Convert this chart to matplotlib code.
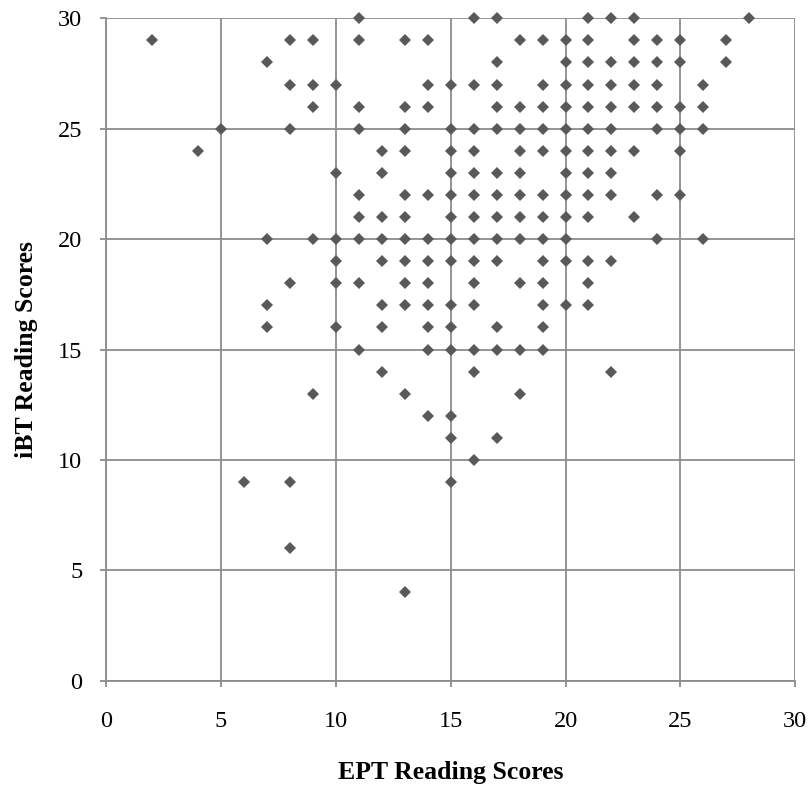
import numpy as np
import matplotlib.pyplot as plt

# EPT vs iBT reading scores (iBT from 30 down)
ept = [11, 16, 17, 21, 22, 23, 28,
       2, 8, 9, 11, 13, 14, 18, 19, 20, 21, 23, 24, 25, 27,
       7, 17, 20, 21, 22, 23, 24, 25, 27,
       8, 9, 10, 14, 15, 16, 17, 19, 20, 21, 22, 23, 24, 26,
       9, 11, 13, 14, 17, 18, 19, 20, 21, 22, 23, 24, 25, 26,
       5, 8, 11, 13, 15, 16, 17, 18, 19, 20, 21, 22, 24, 25, 26,
       4, 12, 13, 15, 16, 18, 19, 20, 21, 22, 23, 25,
       10, 12, 15, 16, 17, 18, 20, 21, 22,
       11, 13, 14, 15, 16, 17, 18, 19, 20, 21, 22, 24, 25,
       11, 12, 13, 15, 16, 17, 18, 19, 20, 21, 23,
       7, 9, 10, 11, 12, 13, 14, 15, 16, 17, 18, 19, 20, 24, 26,
       10, 12, 13, 14, 15, 16, 17, 19, 20, 21, 22,
       8, 10, 11, 13, 14, 16, 18, 19, 21,
       7, 12, 13, 14, 15, 16, 19, 20, 21,
       7, 10, 12, 14, 15, 17, 19,
       11, 14, 15, 16, 17, 18, 19,
       12, 16, 22,
       9, 13, 18,
       14, 15,
       15, 17,
       16,
       6, 8, 15,
       8,
       13]
ibt = ([30] * 7 + [29] * 14 + [28] * 9 + [27] * 14 + [26] * 14 + [25] * 15 +
       [24] * 12 + [23] * 9 + [22] * 13 + [21] * 11 + [20] * 15 + [19] * 11 +
       [18] * 9 + [17] * 9 + [16] * 7 + [15] * 7 + [14] * 3 + [13] * 3 +
       [12] * 2 + [11] * 2 + [10] * 1 + [9] * 3 + [6] * 1 + [4] * 1)

ticks = [0, 5, 10, 15, 20, 25, 30]

plt.rcParams['font.family'] = ['Liberation Serif', 'DejaVu Serif']

fig = plt.figure(figsize=(8.11, 7.87), dpi=100)
ax = fig.add_axes([0.1307, 0.1351, 0.8499, 0.8416])

ax.plot(ept, ibt, 'D', color='#595959', markersize=6.5, markeredgewidth=0,
        clip_on=False, zorder=3)

ax.set_xlim(0, 30)
ax.set_ylim(0, 30)
ax.set_xticks(ticks)
ax.set_yticks(ticks)
ax.grid(True, color='#8c8c8c', linewidth=1.3)
for side in ['top', 'right']:
    ax.spines[side].set_visible(False)
for side in ['left', 'bottom']:
    ax.spines[side].set_color('#8c8c8c')
    ax.spines[side].set_linewidth(1.3)
ax.tick_params(direction='out', length=4, width=1.3, color='#8c8c8c',
               labelsize=17.5)
ax.tick_params(axis='x', pad=18)
ax.tick_params(axis='y', pad=13)

ax.set_xlabel('EPT Reading Scores', fontsize=18.5, fontweight='bold')
ax.set_ylabel('iBT Reading Scores', fontsize=18.5, fontweight='bold')
ax.xaxis.set_label_coords(0.5, -0.121)
ax.yaxis.set_label_coords(-0.0987, 0.5)

fig.savefig('out.png', dpi=100)
